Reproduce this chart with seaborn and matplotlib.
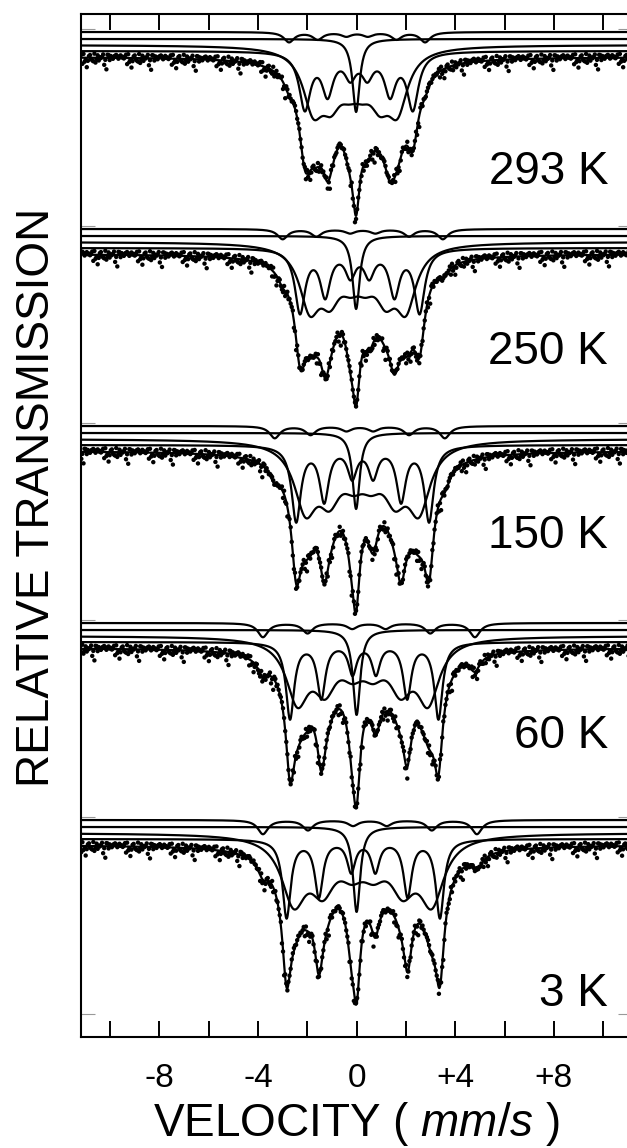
import numpy as np
import pandas as pd
import matplotlib
matplotlib.use("Agg")
import matplotlib.pyplot as plt
import seaborn as sns

# ---------------- data ----------------
temps = ["293 K", "250 K", "150 K", "60 K", "3 K"]

# sharp sextet A (centre shift, outer-line splitting, outer depth %, FWHM) in mm/s
a_center = [0.09, 0.13, 0.245, 0.31, 0.27]
a_split = [4.38, 4.85, 5.39, 6.02, 6.22]
a_depth = [5.6, 6.3, 7.5, 7.6, 7.8]
a_width = [0.55, 0.50, 0.45, 0.40, 0.40]

# broad sextet B
b_center = [-0.05, 0.05, 0.23, 0.25, 0.25]
b_split = [3.42, 3.90, 4.60, 5.30, 5.60]
b_depth = [5.5, 5.8, 6.3, 6.0, 6.3]
b_width = [1.00, 1.00, 1.10, 1.10, 1.20]

# weak outer sextet C
c_center = [0.02, 0.25, 0.13, 0.50, 0.54]
c_split = [5.52, 6.50, 6.90, 8.60, 8.68]
c_depth = [1.0, 1.0, 1.2, 1.4, 1.4]
c_width = [0.50, 0.50, 0.50, 0.50, 0.50]

# central line D
d_center = [-0.02, -0.02, -0.02, 0.0, 0.0]
d_depth = [7.3, 7.3, 7.6, 8.5, 8.5]
d_width = [0.35, 0.35, 0.35, 0.35, 0.35]

line_ratio = [1.0, 0.72, 0.40]                      # lines 1/6 : 2/5 : 3/4
sextet_pos = [-1.0, -0.5787, -0.1574, 0.1574, 0.5787, 1.0]

# residual scatter of the measured points (% transmission)
resid = [0.12, -0.35, 0.28, -0.05, 0.41, -0.22, 0.07, -0.48, 0.19, 0.33,
         -0.14, 0.02, -0.61, 0.25, -0.09, 0.38, -0.27, 0.15, -0.40, 0.06,
         0.22, -0.18, -0.03, 0.30, -0.95, 0.11, 0.18, -0.31, 0.34, -0.08,
         0.17, -0.70, 0.09, 0.27, -0.20, 0.26, -0.12, -1.15, 0.05, -0.26,
         0.31]

panel_step = 19.7
baseline_offset = {"A": 0.6, "B": 1.2, "D": 1.8, "C": 2.5}
label_y = [88.5, 70.5, 52.1, 32.1, 6.3]
xticks_major = [-8, -4, 0, 4, 8]
xtick_labels = ["-8", "-4", "0", "+4", "+8"]
xticks_minor = [-10, -6, -2, 2, 6, 10]
yticks = [4.3, 24.0, 43.7, 63.4, 83.1, 102.8]

# ---------------- model ----------------
def lorentz(v, v0, d, w):
    return d / (1.0 + ((v - v0) / (w / 2.0)) ** 2)

def sextet(v, c, s, d, w):
    r = line_ratio
    depths = [r[0], r[1], r[2], r[2], r[1], r[0]]
    out = np.zeros_like(v)
    for k, p in enumerate(sextet_pos):
        out += lorentz(v, c + p * s / 2.0, d * depths[k], w)
    return out

def components(v, i):
    return {
        "A": sextet(v, a_center[i], a_split[i], a_depth[i], a_width[i]),
        "B": sextet(v, b_center[i], b_split[i], b_depth[i], b_width[i]),
        "C": sextet(v, c_center[i], c_split[i], c_depth[i], c_width[i]),
        "D": lorentz(v, d_center[i], d_depth[i], d_width[i]),
    }

v_fine = np.linspace(-11.3, 11.3, 1500)
v_chan = np.linspace(-11.3, 11.3, 512)

curve_rows = []
point_rows = []
for i, t in enumerate(temps):
    base = 100.0 - i * panel_step
    comps = components(v_fine, i)
    total = sum(comps.values())
    for name, a in comps.items():
        curve_rows.append(pd.DataFrame({"v": v_fine, "y": base + baseline_offset[name] - a,
                                        "curve": f"{t}-{name}"}))
    curve_rows.append(pd.DataFrame({"v": v_fine, "y": base - total, "curve": f"{t}-total"}))
    tot_ch = sum(components(v_chan, i).values())
    n = len(resid)
    res = np.array([resid[(j * 3 + 11 * i) % n] for j in range(len(v_chan))])
    point_rows.append(pd.DataFrame({"v": v_chan, "y": base - tot_ch + res, "panel": t}))

curves = pd.concat(curve_rows, ignore_index=True)
points = pd.concat(point_rows, ignore_index=True)

# ---------------- drawing ----------------
sns.set_style("ticks")
plt.rcParams["font.family"] = ["Liberation Sans", "DejaVu Sans"]
plt.rcParams["mathtext.fontset"] = "custom"
plt.rcParams["mathtext.rm"] = "Liberation Sans"
plt.rcParams["mathtext.it"] = "Liberation Sans:italic"

W, H = 627, 1148
fig = plt.figure(figsize=(W / 100, H / 100), dpi=100)
left_px, right_px, top_px, bot_px = 81, 632, 14, 1037
ax = fig.add_axes([left_px / W, 1 - bot_px / H, (right_px - left_px) / W, (bot_px - top_px) / H])

sns.scatterplot(data=points, x="v", y="y", s=10, color="black", edgecolor="none",
                linewidth=0, ax=ax, legend=False, zorder=3)
sns.lineplot(data=curves, x="v", y="y", units="curve", estimator=None, sort=False,
             color="black", lw=1.6, ax=ax, legend=False, zorder=2)

x0 = (left_px - 356.6) / 24.65
x1 = (right_px - 356.6) / 24.65
ax.set_xlim(x0, x1)
ax.set_ylim(2.0, 104.3)

for i, t in enumerate(temps):
    ax.text(10.2, label_y[i], t, ha="right", va="center", fontsize=33, color="black")

ax.set_xticks(xticks_major)
ax.set_xticklabels(xtick_labels)
ax.set_xticks(xticks_minor, minor=True)
ax.tick_params(axis="x", which="both", direction="in", top=True, bottom=True,
               length=11.5, width=1.4, labelsize=24, pad=19, color="black",
               labelcolor="black")
ax.set_yticks(yticks)
ax.tick_params(axis="y", which="both", direction="in", left=True, right=True,
               labelleft=False, length=10, width=0.8, color="0.6")

for side in ["left", "bottom", "top", "right"]:
    ax.spines[side].set_linewidth(1.5)
    ax.spines[side].set_color("black")

ax.set_xlabel(r"VELOCITY ( $\mathit{mm/s}$ )", fontsize=33, labelpad=4, color="black")
ax.set_ylabel("")
fig.text(37.5 / W, 1 - 497 / H, "RELATIVE TRANSMISSION", rotation=90,
         ha="center", va="center", fontsize=33, color="black")

fig.savefig("out.png", dpi=100)
